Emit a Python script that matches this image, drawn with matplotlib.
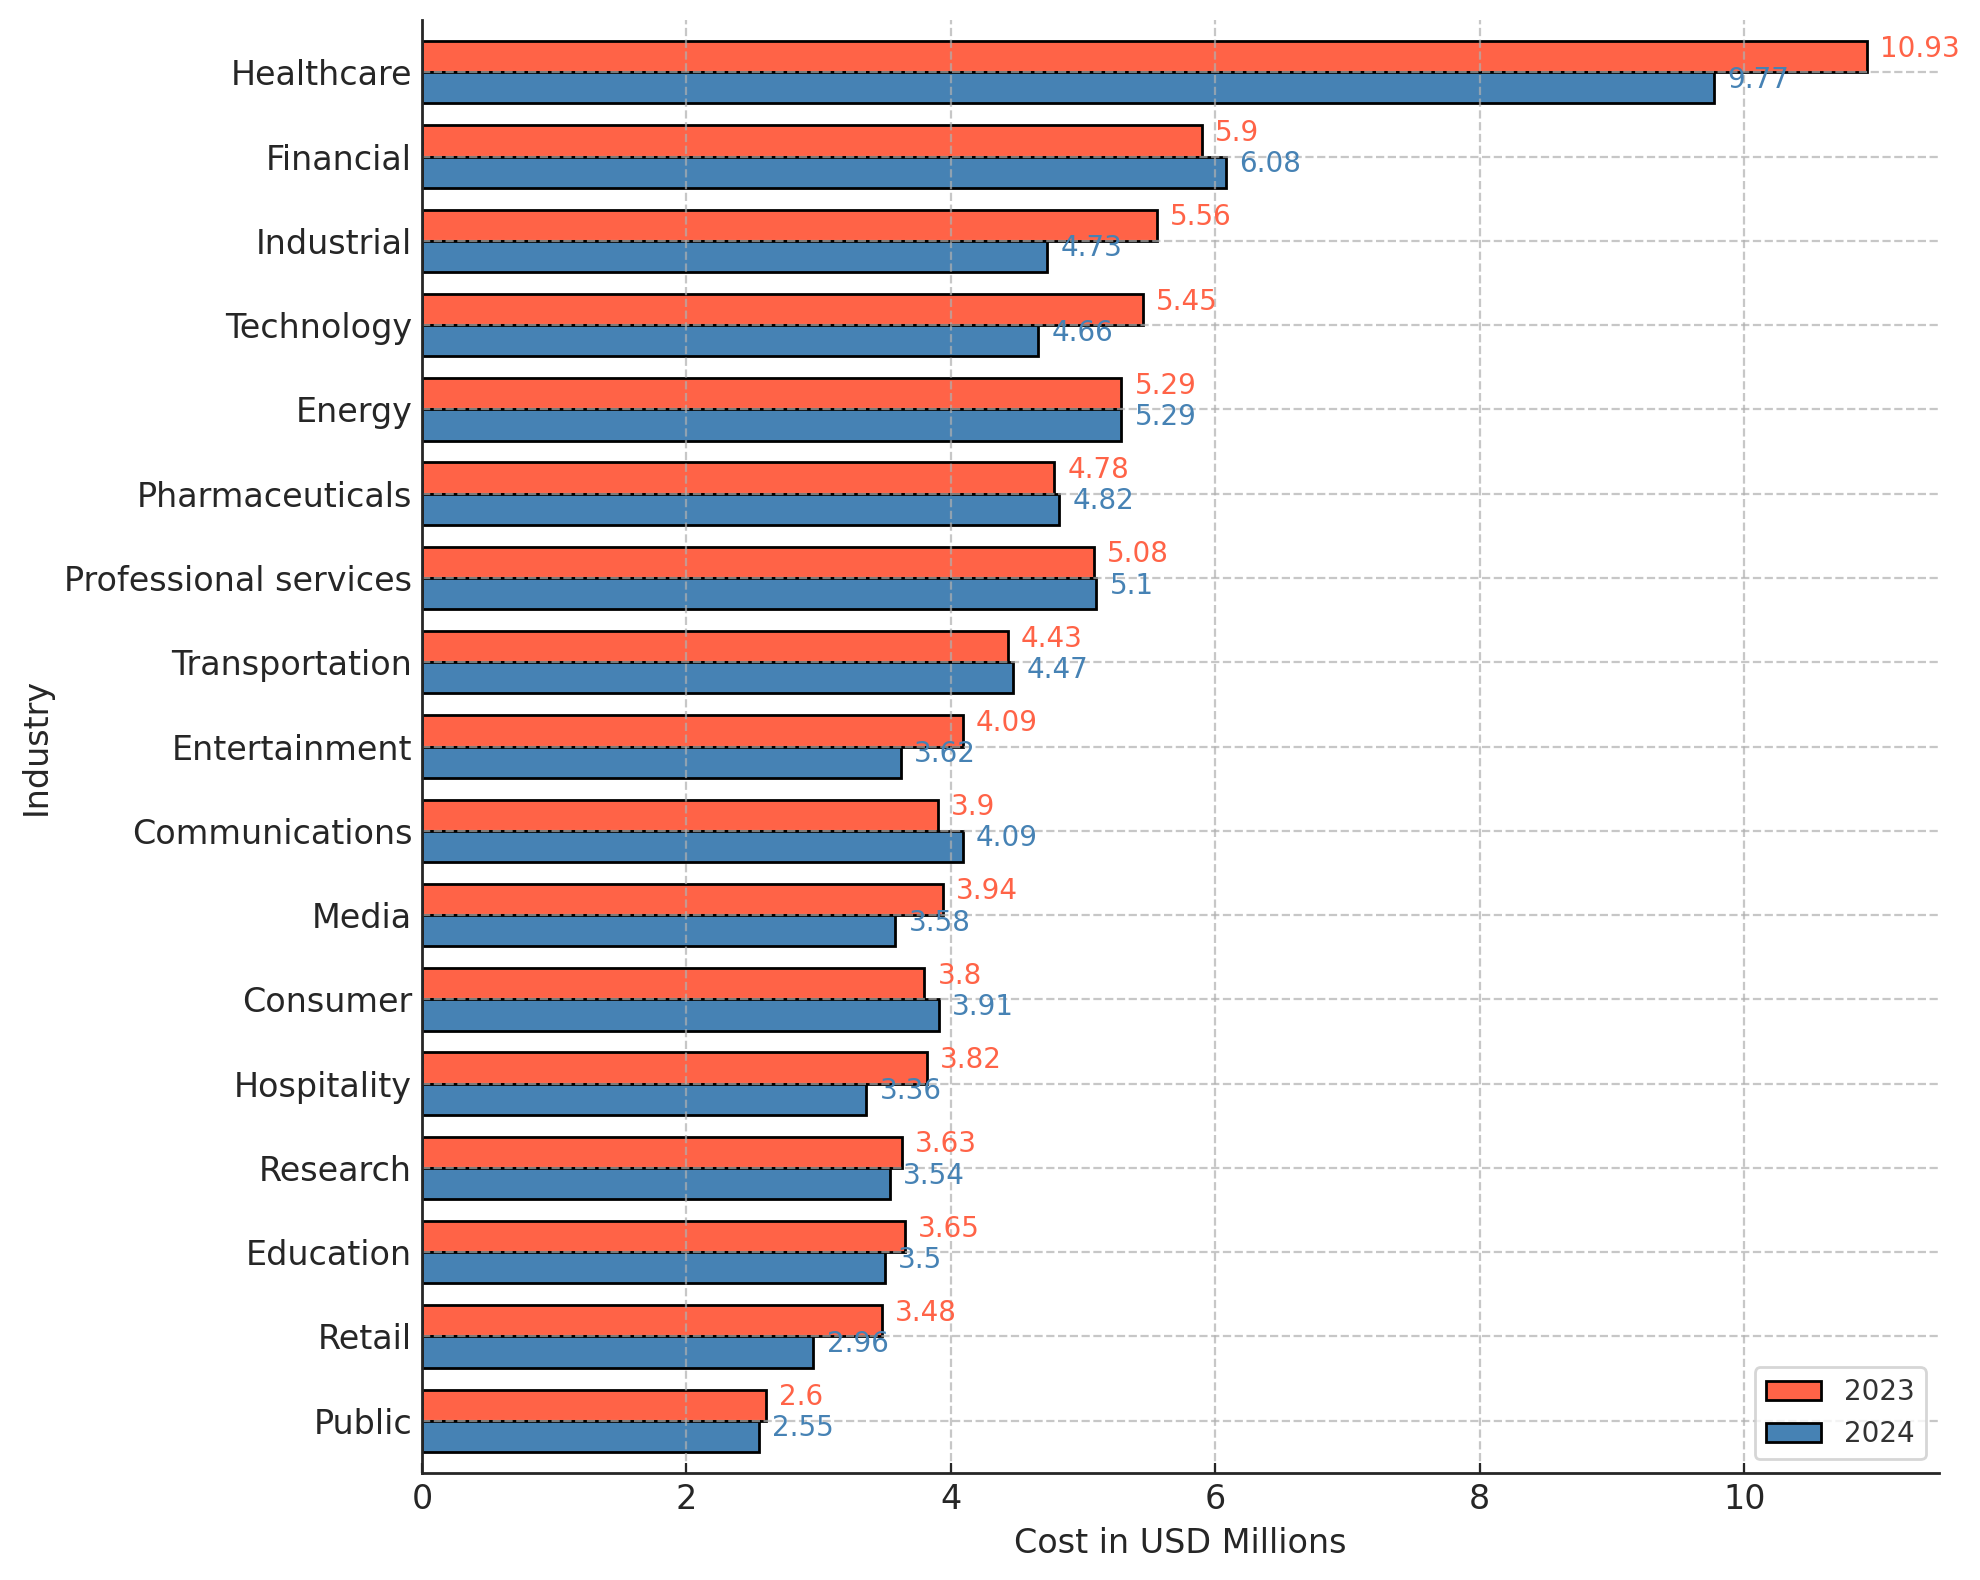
import matplotlib
matplotlib.use("Agg")
import matplotlib.pyplot as plt
import numpy as np

# breach cost per industry, USD millions
industries = ["Healthcare", "Financial", "Industrial", "Technology", "Energy",
              "Pharmaceuticals", "Professional services", "Transportation",
              "Entertainment", "Communications", "Media", "Consumer",
              "Hospitality", "Research", "Education", "Retail", "Public"]
cost_2023 = [10.93, 5.9, 5.56, 5.45, 5.29, 4.78, 5.08, 4.43, 4.09, 3.9,
             3.94, 3.8, 3.82, 3.63, 3.65, 3.48, 2.6]
cost_2024 = [9.77, 6.08, 4.73, 4.66, 5.29, 4.82, 5.1, 4.47, 3.62, 4.09,
             3.58, 3.91, 3.36, 3.54, 3.5, 2.96, 2.55]

RED = "tomato"
BLUE = "steelblue"
TXT = "#262626"
h = 0.37

fig = plt.figure(figsize=(1981 / 200, 1580 / 200), dpi=200)
ax = fig.add_axes([0.2130, 0.0677, 0.9790 - 0.2130, 0.98734 - 0.0677])

idx = np.arange(len(industries))
ax.barh(idx - h / 2, cost_2023, height=h, color=RED, edgecolor="black",
        linewidth=1.0, label="2023")
ax.barh(idx + h / 2, cost_2024, height=h, color=BLUE, edgecolor="black",
        linewidth=1.0, label="2024")

for i, (a, b) in enumerate(zip(cost_2023, cost_2024)):
    ax.text(a + 0.1, i - h / 2, f"{a}", color=RED, fontsize=10, va="baseline")
    ax.text(b + 0.1, i + h / 2, f"{b}", color=BLUE, fontsize=10, va="baseline")

ax.set_yticks(idx)
ax.set_yticklabels(industries)
ax.set_ylim(len(industries) - 1 + 0.62, -0.62)

ax.grid(True, linestyle="--", color="#b0b0b0", linewidth=0.8, alpha=0.7)
ax.tick_params(axis="x", direction="in", labelsize=12, colors=TXT)
ax.tick_params(axis="y", length=0, labelsize=12, colors=TXT)
for s in ("top", "right"):
    ax.spines[s].set_visible(False)
for s in ("left", "bottom"):
    ax.spines[s].set_color(TXT)
    ax.spines[s].set_linewidth(1.0)

ax.set_xlabel("Cost in USD Millions", fontsize=12, color=TXT)
ax.set_ylabel("Industry", fontsize=12, color=TXT)

leg = ax.legend(loc="lower right", fontsize=10)
for t in leg.get_texts():
    t.set_color("#333333")

fig.savefig("out.png", dpi=200)
